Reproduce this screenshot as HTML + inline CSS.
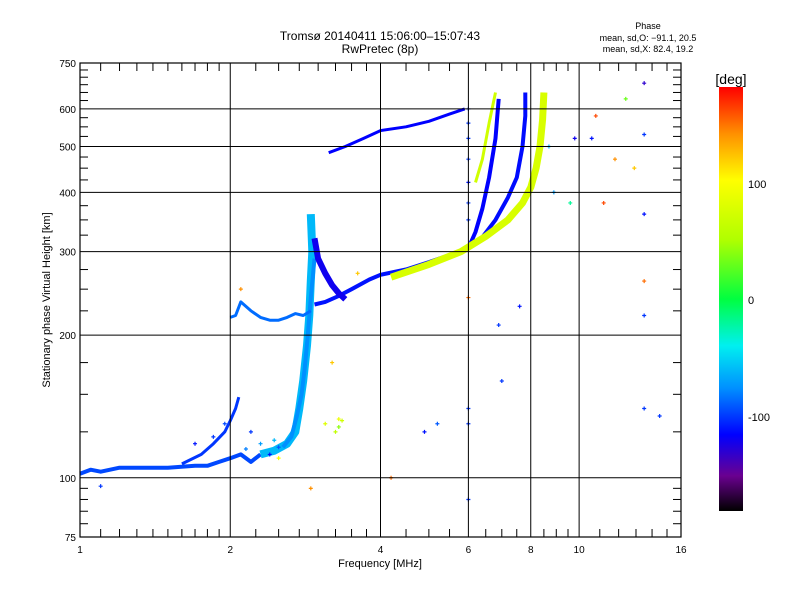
<!DOCTYPE html>
<html><head><meta charset="utf-8"><style>
html,body{margin:0;padding:0;background:#fff;}
svg{display:block;font-family:"Liberation Sans",sans-serif;}
</style></head><body>
<svg id="chart" width="800" height="600" viewBox="0 0 800 600">
<defs>
<linearGradient id="cbar" x1="0" y1="1" x2="0" y2="0">
<stop offset="0" stop-color="#000000"/><stop offset="0.083" stop-color="#6a0090"/>
<stop offset="0.18" stop-color="#0000ff"/><stop offset="0.29" stop-color="#0090ff"/>
<stop offset="0.39" stop-color="#00f0f0"/><stop offset="0.5" stop-color="#00ff40"/>
<stop offset="0.64" stop-color="#b0ff00"/><stop offset="0.78" stop-color="#ffff00"/>
<stop offset="0.89" stop-color="#ff9000"/><stop offset="1" stop-color="#ff0000"/>
</linearGradient>
</defs>
<g id="marks"></g>
<g id="axes"></g>
<text x="380" y="40" text-anchor="middle" font-size="12">Tromsø 20140411 15:06:00–15:07:43</text>
<text x="380" y="53" text-anchor="middle" font-size="12">RwPretec (8p)</text>
<text x="648" y="29" text-anchor="middle" font-size="9">Phase</text>
<text x="648" y="41" text-anchor="middle" font-size="9">mean, sd,O: −91.1, 20.5</text>
<text x="648" y="52" text-anchor="middle" font-size="9">mean, sd,X:  82.4, 19.2</text>
<text x="380" y="567" text-anchor="middle" font-size="11">Frequency [MHz]</text>
<text transform="translate(50,300) rotate(-90)" text-anchor="middle" font-size="11">Stationary phase Virtual Height [km]</text>
<rect x="719" y="87" width="24" height="424" fill="url(#cbar)"/>
<text x="731" y="84" text-anchor="middle" font-size="14">[deg]</text>
<text x="748" y="188" font-size="11">100</text>
<text x="748" y="304" font-size="11">0</text>
<text x="748" y="421" font-size="11">-100</text>
</svg>
<script>
const eTraceF = [1.0,1.05,1.1,1.2,1.3,1.5,1.7,1.8,1.9,2.0,2.1,2.2,2.3];
const eTraceH = [102,104,103,105,105,105,106,106,108,110,112,108,112];
const eRiseF = [1.6,1.75,1.85,1.95,2.0,2.05,2.08];
const eRiseH = [107,112,118,125,132,140,148];
const f1ColF = [2.3,2.45,2.6,2.7,2.75,2.8,2.85,2.88,2.9,2.92,2.9];
const f1ColH = [112,114,118,125,140,160,190,220,260,300,360];
const f1LowF = [2.0,2.05,2.1,2.2,2.3,2.4,2.5,2.6,2.7,2.8,2.9];
const f1LowH = [218,220,235,225,218,215,215,218,222,220,225];
const fOF = [2.95,3.1,3.3,3.5,3.8,4.0,4.5,5.0,5.5,6.0];
const fOH = [232,235,242,250,262,268,275,285,295,305];
const spreadF = [2.95,3.0,3.1,3.2,3.3,3.4];
const spreadH = [320,290,270,255,245,238];
const f2UpF = [3.15,3.4,3.7,4.0,4.5,5.0,5.5,5.9];
const f2UpH = [485,500,520,540,550,565,585,600];
const oBlue1F = [6.0,6.2,6.4,6.6,6.8,6.9];
const oBlue1H = [305,330,370,430,520,630];
const oBlue2F = [6.3,6.8,7.2,7.5,7.7,7.8,7.8];
const oBlue2H = [315,350,390,430,500,580,650];
const xInF = [6.2,6.4,6.6,6.8];
const xInH = [420,470,560,650];
const xMainF = [4.2,5.0,5.8,6.5,7.2,7.7,8.0,8.2,8.35,8.45,8.5];
const xMainH = [265,282,300,323,350,380,410,450,500,570,650];
const f1Col2F = [2.55,2.65,2.72,2.78,2.82,2.86,2.9,2.95];
const f1Col2H = [116,122,135,150,170,200,240,290];
const traceList = [
 [eTraceF,eTraceH,-95,4],[eRiseF,eRiseH,-100,3],[f1ColF,f1ColH,-60,8],[f1Col2F,f1Col2H,-75,4],[f1LowF,f1LowH,-85,3],
 [fOF,fOH,-110,4],[spreadF,spreadH,-120,6],[f2UpF,f2UpH,-115,3],[oBlue1F,oBlue1H,-115,4],
 [oBlue2F,oBlue2H,-112,4],[xInF,xInH,70,3],[xMainF,xMainH,75,7]
];
const ptF = [6,6,6,6,6,6,6,6,6,6,6,3.1,3.3,3.2,2.9,2.5,1.1,2.1,4.9,6.9,8.7,8.9,9.6,10.8,11.8,12.4,13.5,13.5,13.5,13.5,13.5,13.5,14.5,12.9,9.8,11.2,5.2,4.2,3.6,7.6,7.0,10.6,1.7,1.85,1.95,2.15,2.2,2.3,2.4,2.45,2.5,3.25,3.3,3.35];
const ptH = [600,560,520,470,420,380,350,140,130,90,240,130,133,175,95,110,96,250,125,210,500,400,380,580,470,630,680,530,360,260,220,140,135,450,520,380,130,100,270,230,160,520,118,122,130,115,125,118,112,120,116,125,128,132];
const ptP = [-100,-100,-100,-100,-110,-100,-100,-100,-100,-100,150,80,90,120,140,100,-100,140,-110,-100,-60,-70,-20,160,140,30,-130,-100,-110,150,-100,-100,-100,120,-120,160,-90,150,120,-110,-100,-110,-110,-100,-95,-80,-100,-70,-110,-60,-90,60,40,70];

const x0=80,x1=681,y0=537,y1=63;
function xs(f){return x0+(x1-x0)*Math.log2(f)/4;}
function ys(h){return y0-(y0-y1)*Math.log10(h/75);}
const stops=[[-180,[0,0,0]],[-150,[106,0,144]],[-115,[0,0,255]],[-75,[0,144,255]],[-40,[0,240,240]],[0,[0,255,64]],[50,[176,255,0]],[100,[255,255,0]],[140,[255,144,0]],[180,[255,0,0]]];
function col(p){for(let i=1;i<stops.length;i++){if(p<=stops[i][0]){const a=stops[i-1],b=stops[i],t=(p-a[0])/(b[0]-a[0]);const c=a[1].map((v,k)=>Math.round(v+(b[1][k]-v)*t));return `rgb(${c})`;}}return 'rgb(255,0,0)';}
const NS='http://www.w3.org/2000/svg';
const marks=document.getElementById('marks'),axes=document.getElementById('axes');
function mk(tag,attrs,parent){const e=document.createElementNS(NS,tag);for(const k in attrs)e.setAttribute(k,attrs[k]);parent.appendChild(e);return e;}
traceList.forEach((t,i)=>{
 const pts=t[0].map((f,j)=>xs(f).toFixed(1)+','+ys(t[1][j]).toFixed(1)).join(' ');
 const pl=mk('polyline',{points:pts,fill:'none',stroke:col(t[2]),'stroke-width':t[3],'stroke-linejoin':'round'},marks);
 
 
});
ptF.forEach((f,i)=>{
 const cx=xs(f),cy=ys(ptH[i]);
 const p=mk('path',{d:`M${cx-2},${cy}h4M${cx},${cy-2}v4`,stroke:col(ptP[i]),'stroke-width':1.2},marks);
 
 
});
const fr=mk('rect',{x:x0,y:y1,width:x1-x0,height:y0-y1,fill:'none',stroke:'#000','stroke-width':1.2},axes);


const xMajor=[1,2,4,6,8,10,16];
const xGrid=[2,4,6,8,10];
const yMajor=[75,100,200,300,400,500,600,750];
const yGrid=[100,200,300,400,500,600];
xGrid.forEach(f=>{const l=mk('line',{x1:xs(f),x2:xs(f),y1:y1,y2:y0,stroke:'#000'},axes);});
yGrid.forEach(h=>{const l=mk('line',{x1:x0,x2:x1,y1:ys(h),y2:ys(h),stroke:'#000'},axes);});
const xMinor=[1.1,1.2,1.3,1.4,1.5,1.6,1.7,1.8,1.9,2.25,2.5,2.75,3,3.25,3.5,3.75,4.5,5,5.5,6.5,7,7.5,8.5,9,9.5,11,12,13,14,15];
xMinor.forEach(f=>{const x=xs(f);mk('line',{x1:x,x2:x,y1:y0,y2:y0-8,stroke:'#000'},axes);mk('line',{x1:x,x2:x,y1:y1,y2:y1+8,stroke:'#000'},axes);});
const yMinor=[80,85,90,95,125,150,175,225,250,275,325,350,375,425,450,475,525,550,575,625,650,675,700,725];
yMinor.forEach(h=>{const y=ys(h);mk('line',{x1:x0,x2:x0+8,y1:y,y2:y,stroke:'#000'},axes);mk('line',{x1:x1,x2:x1-8,y1:y,y2:y,stroke:'#000'},axes);});
xMajor.forEach(f=>{const t=mk('text',{x:xs(f),y:553,'text-anchor':'middle','font-size':10},axes);t.textContent=f;});
yMajor.forEach(h=>{const t=mk('text',{x:76,y:ys(h)+4,'text-anchor':'end','font-size':10},axes);t.textContent=h;});
</script>
</body></html>
